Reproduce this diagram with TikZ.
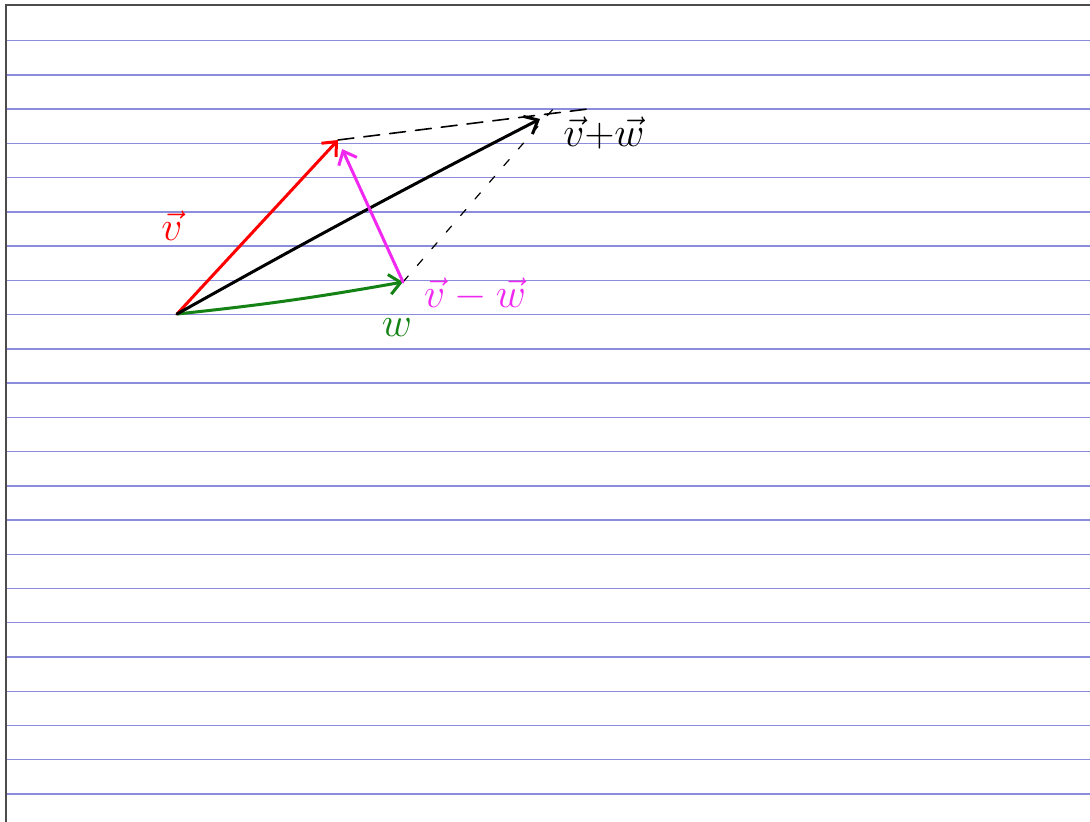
\documentclass[tikz,border=0pt]{standalone}
\usepackage{amsmath, amssymb}
\usepackage{tikz}
\usetikzlibrary{arrows.meta, positioning}

\definecolor{paperblue}{RGB}{140,140,220}
\definecolor{inkgreen}{RGB}{20,130,20}
\definecolor{inkmagenta}{RGB}{240,40,240}

\begin{document}
\begin{tikzpicture}[
  x=0.5pt, y=-0.5pt,
  ruling/.style={draw=paperblue, line width=0.7pt},
  arrow/.style={-{Straight Barb[length=2mm, width=3.5mm]}, line width=1.5pt, line cap=round},
  guide/.style={line width=0.8pt, line cap=round},
  lbl/.style={font=\fontsize{20}{24}\selectfont}
]
\useasboundingbox (0,0) rectangle (1090,822);
\fill[white] (0,0) rectangle (1090,822);

% paper
\foreach \k in {0,...,22}
  \draw[ruling] (6,{40.7+34.24*\k}) -- (1090,{40.7+34.24*\k});
\draw[black!70, line width=1pt] (6,822) -- (6,5) -- (1090,5);

% points
\coordinate (O) at (177,314);
\coordinate (V) at (338,140);
\coordinate (W) at (403,282);
\coordinate (S) at (540,119);
\coordinate (Vext) at (588,109);
\coordinate (Wext) at (560,101);

% vectors
\draw[guide, dash pattern=on 8pt off 5pt] (V) -- (Vext);
\draw[guide, line width=0.6pt, dash pattern=on 4pt off 7pt] (W) -- (Wext);
\draw[arrow, red] (O) -- (V);
\draw[arrow, inkgreen] (O) to[bend right=2] (W);
\draw[arrow, black] (O) to[bend left=1] (S);
\draw[arrow, inkmagenta, shorten >=5pt] (W) -- (V);

% labels
\node[lbl, red] (vlabel) at (172,226) {$\vec v$};
\node[lbl, inkgreen] (wlabel) at (397,328) {$w$};
\node[lbl, inkmagenta] (difflabel) at (475,294) {$\vec v-\vec w$};
\node[lbl, black] (sumlabel) at (604,133) {$\vec v{+}\vec w$};
\end{tikzpicture}
\end{document}
